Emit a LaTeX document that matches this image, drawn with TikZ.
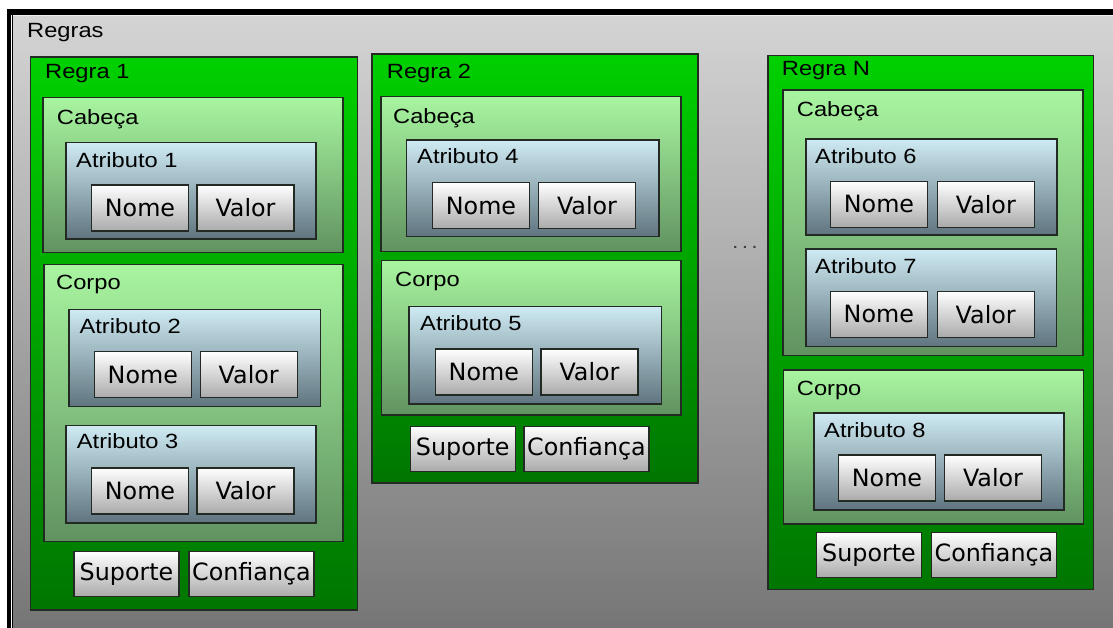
\documentclass[tikz,border=0pt]{standalone}
\usepackage{fontspec}
\setmainfont{Liberation Sans}
\newfontfamily\titlefont[FakeStretch=1.15]{Liberation Sans}
\newfontfamily\boxfont{DejaVu Sans}
\usetikzlibrary{fit}
\definecolor{bgtop}{RGB}{212,212,212}
\definecolor{bgbot}{RGB}{118,118,118}
\definecolor{rgtop}{RGB}{0,208,0}
\definecolor{rgbot}{RGB}{0,118,0}
\definecolor{sctop}{RGB}{168,245,160}
\definecolor{scbot}{RGB}{96,146,96}
\definecolor{attop}{RGB}{206,234,242}
\definecolor{atbot}{RGB}{95,116,126}
\definecolor{nmbot}{RGB}{170,170,170}
\definecolor{edge}{RGB}{35,42,35}
\newcommand\bx[6]{\node[#2, fit={(#3,#4) (#5,#6)}] (#1) {};}
\begin{document}
\begin{tikzpicture}[x=1pt,y=-1pt,
  boxbase/.style={inner sep=0pt, outer sep=0pt, draw=edge, line width=1.1pt},
  regrabox/.style={boxbase, top color=rgtop, bottom color=rgbot},
  secbox/.style={boxbase, top color=sctop, bottom color=scbot},
  atrbox/.style={boxbase, top color=attop, bottom color=atbot},
  valbox/.style={boxbase, top color=white, bottom color=nmbot, minimum height=46pt,
    font=\boxfont\fontsize{23.8}{27}\selectfont, text=black},
  nmbox/.style={valbox, minimum width=97pt},
  supbox/.style={valbox, minimum width=105pt, minimum height=45pt},
  cfbox/.style={valbox, minimum width=125pt, minimum height=45pt},
  ttl/.style={anchor=base west, inner sep=0pt, text=black,
    font=\titlefont\fontsize{20.6}{24}\selectfont}
]
\path[use as bounding box, fill=white] (0,0) rectangle (1113,628);
\node[inner sep=0pt, outer sep=0pt, top color=bgtop, bottom color=bgbot,
  fit={(12,16) (1113,628)}] (bg) {};
% frame
\fill[black] (7,9) rectangle (1113,15.3);
\fill[black] (7,9) rectangle (11,628);
\fill[black] (12,15) rectangle (13.4,628);
\fill[white!85!gray] (13.4,15.3) rectangle (1113,16.4);
\node[ttl] (lregras) at (27,38) {Regras};

% ---------------- Regra 1
\bx{r1}{regrabox}{30.7}{57}{357.5}{610}
\node[ttl] (lr1) at (45,79) {Regra 1};
\bx{h1}{secbox}{43}{97.7}{343}{252.5}
\node[ttl] (lh1) at (56.7,125) {Cabeça};
\bx{a1}{atrbox}{66}{142.7}{316}{239}
\node[ttl] (la1) at (76,167.7) {Atributo 1};
\node[nmbox] (n1) at (140,208) {Nome};
\node[nmbox] (v1) at (245.5,208) {Valor};
\bx{b1}{secbox}{44}{264.3}{343}{541.7}
\node[ttl] (lb1) at (56,290) {Corpo};
\bx{a2}{atrbox}{69}{309.3}{320.7}{406.7}
\node[ttl] (la2) at (79.3,333.3) {Atributo 2};
\node[nmbox] (n2) at (142.8,374.7) {Nome};
\node[nmbox] (v2) at (248.7,374.7) {Valor};
\bx{a3}{atrbox}{66}{425.7}{316}{523}
\node[ttl] (la3) at (76.7,448.3) {Atributo 3};
\node[nmbox] (n3) at (140,491) {Nome};
\node[nmbox] (v3) at (245.5,491) {Valor};
\node[supbox] (s1) at (126.5,574.2) {Suporte};
\node[cfbox] (f1) at (251.5,574.2) {Confiança};

% ---------------- Regra 2
\bx{r2}{regrabox}{372}{54}{698}{483}
\node[ttl] (lr2) at (386.7,78.3) {Regra 2};
\bx{h2}{secbox}{381}{96.7}{681}{251.7}
\node[ttl] (lh2) at (393,123.3) {Cabeça};
\bx{a4}{atrbox}{406.7}{140}{659}{236.7}
\node[ttl] (la4) at (417,163.3) {Atributo 4};
\node[nmbox] (n4) at (481,205.7) {Nome};
\node[nmbox] (v4) at (587,205.7) {Valor};
\bx{b2}{secbox}{381.7}{260.7}{681}{415}
\node[ttl] (lb2) at (395,286.7) {Corpo};
\bx{a5}{atrbox}{409}{306.7}{661.7}{404}
\node[ttl] (la5) at (420,330.7) {Atributo 5};
\node[nmbox] (n5) at (483.8,372) {Nome};
\node[nmbox] (v5) at (589.5,372) {Valor};
\node[supbox] (s2) at (462.8,448.8) {Suporte};
\node[cfbox] (f2) at (586.5,448.8) {Confiança};

% ---------------- dots
\node[anchor=base, inner sep=0pt, font=\titlefont\fontsize{20}{24}\selectfont, text=black!75] (dots) at (745,249) {.\hspace{3.2pt}.\hspace{3.2pt}.};

% ---------------- Regra N
\bx{rN}{regrabox}{768}{55.7}{1093.5}{589.3}
\node[ttl] (lrN) at (781.7,76) {Regra N};
\bx{hN}{secbox}{783}{90}{1083}{355.7}
\node[ttl] (lhN) at (796.7,116.7) {Cabeça};
\bx{a6}{atrbox}{806}{139}{1057}{235}
\node[ttl] (la6) at (815,163.3) {Atributo 6};
\node[nmbox] (n6) at (879,204.3) {Nome};
\node[nmbox] (v6) at (985.8,204.3) {Valor};
\bx{a7}{atrbox}{806}{249}{1056.7}{346.7}
\node[ttl] (la7) at (815,273.3) {Atributo 7};
\node[nmbox] (n7) at (878.8,314.3) {Nome};
\node[nmbox] (v7) at (985.7,314.3) {Valor};
\bx{bN}{secbox}{783.3}{370}{1083.3}{524}
\node[ttl] (lbN) at (796.7,395.7) {Corpo};
\bx{a8}{atrbox}{814}{413}{1064}{510}
\node[ttl] (la8) at (824,437.3) {Atributo 8};
\node[nmbox] (n8) at (887,478) {Nome};
\node[nmbox] (v8) at (993,478) {Valor};
\node[supbox] (sN) at (869,555.2) {Suporte};
\node[cfbox] (fN) at (994,555.2) {Confiança};
\end{tikzpicture}
\end{document}
